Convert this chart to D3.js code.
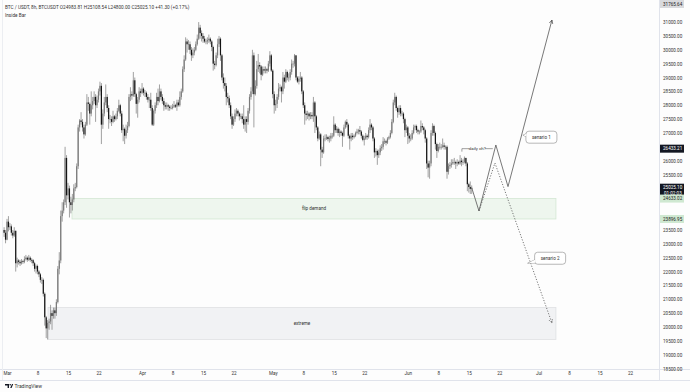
<!DOCTYPE html>
<html><head><meta charset="utf-8">
<script src="https://cdn.jsdelivr.net/npm/d3@7"></script>
<style>
html,body{margin:0;padding:0;background:#fdfdfd;}
svg{display:block;font-family:Roboto,"Liberation Sans",sans-serif;}
</style></head><body>
<svg id="c" width="690" height="392"></svg>
<script>
// ---------- DATA ----------
const symbolTitle = "BTC / USDT, 8h, BTCUSDT";
const ohlcText = ["O24983.81", "H25108.54", "L24800.00", "C25025.10", "+41.30 (+0.17%)"];
const indicatorName = "Inside Bar";
const firstCandleTime = "2023-02-28T08:00:00Z";
const firstOpen = 23500;
const closes = [23400,23150,
23800,23600,23630, 23400,23300,23470, 22300,22400,22350, 22300,22380,22350, 22450,22500,22430,
22500,22420,22410, 22300,22100,22200, 22000,21900,21700, 21700,21200,20350, 19950,20150,20200,
20500,20400,20600, 20500,20900,22100, 22400,24000,24200, 24500,26100,24750, 25000,24500,24400,
24600,25000,25050, 25800,27200,27450, 27400,27200,26950, 27300,28100,28050, 27700,28000,28150,
28300,28000,28200, 28500,28700,27300, 27700,28100,28300, 27900,27500,27500, 27400,27600,27500,
27600,27800,28000, 27700,27100,27150, 26900,27100,27250, 28300,28400,28350, 28900,28400,28050,
28200,28500,28450,
28600,28450,28450, 28300,28200,28200, 27900,27300,27800, 28000,28300,28150, 28500,28300,28150,
28000,27950,28000, 27950,27900,27900, 27950,28000,27950, 28100,28000,28300, 28500,29300,29650,
30300,30200,30200, 30000,29800,29900, 30000,30200,30400, 30800,30600,30500, 30400,30300,30300,
30350,30400,30300, 30100,29500,29450, 29800,30200,30400, 29800,29000,28800, 28700,28300,28250,
28000,27600,27300, 27500,27700,27800, 27700,27600,27600, 27500,27300,27500, 27400,27800,28300,
28500,29800,28400, 28700,29300,29450, 29400,29100,29300, 29250,29300,29250, 29500,29800,29250,
28400,28000,28050, 28300,28600,28650, 28500,29000,28850, 29200,29000,29000, 29200,29500,29500,
29800,29000,28850, 28950,29000,28500, 28000,27700,27650, 27700,27600,27650, 27600,28100,27600,
27200,26800,26950, 26400,26300,26800, 26800,26850,26780, 26800,26900,26900, 27300,27100,27150,
27000,27050,27000, 26900,27200,27400, 27300,26900,26800, 26900,26850,26900, 27000,27050,27100,
27050,26900,26750, 26800,26900,26850, 27100,27300,27200, 26800,26300,26350, 26200,26300,26450,
26500,26700,26700, 26650,26800,26850, 27000,27400,28100, 28300,27900,27750, 27900,27700,27700,
27500,27100,27200,
26900,26800,26800, 27000,27200,27250, 27100,27050,27050, 27250,27200,27100, 26800,25900,25750,
25900,27000,27250, 27000,26600,26350, 26500,26500,26500, 26550,26500,26500, 25600,25800,25850,
25900,25950,25950, 25900,25950,25900, 26000,25950,25950, 26100,25900,25150, 25050,24983.81,25025.10];
const highs = [23600,23500,
23900,24000,23750, 23700,23500,23600, 23480,22500,22450, 22420,22450,22420, 22550,22600,22550,
22600,22550,22480, 22450,22350,22250, 22250,22050,21950, 21800,21750,21250, 20400,20250,20300,
20800,20600,20700, 20700,21000,22200, 22700,24200,24500, 24600,26500,26200, 25200,25100,24700,
24800,25150,25200, 25900,27300,27500, 27750,27500,27300, 27400,28400,28300, 28100,28500,28300,
28500,28400,28350, 28600,28850,28800, 27850,28300,28750, 28400,28000,27650, 27600,27800,27650,
27700,27900,28200, 28050,27800,27300, 27200,27300,27400, 28400,28650,28500, 29200,29000,28450,
28300,28650,28600,
28800,28650,28550, 28500,28400,28300, 28450,28000,27850, 28100,28450,28600, 28750,28600,28400,
28250,28100,28100, 28050,28000,28000, 28050,28150,28050, 28200,28200,28500, 28600,29400,29800,
30450,30400,30350, 30300,30100,30050, 30100,30300,30550, 31000,30900,30700, 30600,30500,30400,
30450,30550,30450, 30350,30150,29600, 29900,30400,30500, 30450,29850,29150, 29000,28800,28450,
28350,28100,27700, 27600,27850,27900, 27850,27750,27700, 27700,28000,27600, 27600,27900,28400,
28650,30000,29900, 28900,29600,29850, 29550,29450,29400, 29400,29400,29350, 29600,29950,29850,
29300,28500,28200, 28400,28800,28750, 28700,29200,29100, 29300,29250,29150, 29300,29650,29600,
29850,29800,29050, 29050,29200,29050, 28550,28100,27800, 27800,27750,27750, 27750,28300,28150,
27650,27250,27050, 27000,26500,26900, 26950,26950,26900, 26900,27000,27000, 27600,27350,27250,
27200,27150,27100, 27050,27300,27450, 27500,27350,26950, 27000,27000,26950, 27050,27150,27150,
27250,27100,26950, 26900,27000,26950, 27200,27500,27350, 27250,26850,26450, 26400,26400,26550,
26600,26850,26800, 26750,26850,26900, 27100,27500,28200, 28450,28350,27950, 28000,28000,27800,
27750,27550,27300,
27250,27000,26950, 27100,27300,27300, 27300,27150,27100, 27450,27350,27250, 27150,26850,26000,
26000,27100,27350, 27300,27050,26650, 26600,26650,26600, 26800,26650,26550, 26550,25900,25950,
26050,26050,26100, 26000,26050,26000, 26200,26100,26050, 26150,26100,25950, 25200,25250,25108.54];
const lows = [23250,23020,
23130,23450,23500, 23300,23200,23250, 22000,22150,22250, 22200,22250,22280, 22300,22400,22350,
22380,22350,22300, 22200,22000,21930, 21900,21800,21600, 21550,21100,20050, 19600,19550,19900,
20100,19900,20300, 20300,20400,20850, 21900,22300,23800, 24100,24400,24300, 24600,23950,24100,
24200,24500,24900, 25000,25700,27050, 27300,27050,26800, 26900,27250,27800, 27300,27600,27850,
28050,27400,27900, 28100,28350,26600, 27150,27600,28000, 27750,27150,27350, 27250,27350,27400,
27450,27500,27750, 27600,27000,26700, 26600,26800,27000, 27200,28150,28200, 28300,28300,27700,
27550,28100,28300,
28400,28350,28300, 28200,28100,27900, 27800,27250,27250, 27700,27900,28000, 28100,28200,28050,
27800,27850,27850, 27800,27800,27850, 27850,27900,27900, 27800,27950,27950, 28200,28450,29200,
29600,29900,30000, 29850,29600,29700, 29800,29950,30150, 30350,30400,30300, 30250,30250,30200,
30200,30250,30200, 29950,29250,29300, 29400,29700,30100, 29600,28900,28600, 28500,28000,28100,
27900,27500,27150, 27250,27400,27600, 27600,27450,27500, 27350,27150,27050, 27000,27300,27700,
28200,28400,27200, 28350,28600,29200, 29150,28900,29050, 29150,29150,29150, 29200,29400,29200,
28250,27700,27800, 27900,28200,28500, 28100,28400,28600, 28800,28900,28850, 28900,29100,29350,
29400,28900,28800, 28750,28850,28400, 27900,27300,27450, 27500,27450,27500, 27500,27400,27000,
27100,26700,26750, 25800,26100,26250, 26700,26750,26700, 26650,26700,26800, 26850,27000,27000,
26900,26850,26900, 26500,26850,27150, 27200,26800,26400, 26700,26750,26800, 26850,26950,26950,
26950,26800,26700, 26550,26750,26750, 26800,27000,27100, 26700,26100,26150, 25850,26100,26200,
26350,26400,26600, 26550,26600,26750, 26800,26950,27350, 28000,27800,27550, 27650,27600,27600,
27350,26850,27000,
26600,26650,26700, 26750,26950,27100, 27000,26950,26950, 27000,27100,26950, 26650,25700,25400,
25350,25800,26900, 26900,26400,26100, 26300,26400,26400, 26450,26400,26400, 25350,25500,25700,
25750,25850,25850, 25700,25800,25850, 25850,25800,25850, 25900,25800,24900, 24850,24800,24800];

const priceTicks = [18500,19000,19500,20000,20500,21000,21500,22000,22500,23000,23500,24000,24500,
  25000,25500,26000,26500,27000,27500,28000,28500,29000,29500,30000,30500,31000];
const timeTickDates = ["2023-03-01","2023-03-08","2023-03-15","2023-03-22","2023-04-01","2023-04-08",
  "2023-04-15","2023-04-22","2023-05-01","2023-05-08","2023-05-15","2023-05-22","2023-06-01","2023-06-08",
  "2023-06-15","2023-06-22","2023-07-01","2023-07-08","2023-07-15","2023-07-22"];
const timeTickLabels = ["Mar","8","15","22","Apr","8","15","22","May","8","15","22","Jun","8","15","22","Jul","8","15","22"];

// zones
const zoneNames = ["flip demand", "extreme"];
const zoneStart = ["2023-03-15T22:00:00Z", "2023-03-10T10:00:00Z"];
const zoneEnd = ["2023-07-05T00:00:00Z", "2023-07-05T00:00:00Z"];
const zoneLow = [23896.95, 19550];
const zoneHigh = [24633.02, 20700];

// scenario paths [time, price]
const scenario1 = [["2023-06-15T16:00:00Z",25025],["2023-06-17T08:00:00Z",24185],["2023-06-21T05:00:00Z",26566],
  ["2023-06-24T00:00:00Z",25065],["2023-07-04T02:00:00Z",31075]];
const scenario2 = [["2023-06-17T08:00:00Z",24185],["2023-06-21T00:00:00Z",25916],["2023-07-04T02:00:00Z",20144]];
const calloutTexts = ["senario 1", "senario 2"];
const calloutAnchors = [["2023-06-27T10:00:00Z",26920],["2023-06-28T12:00:00Z",22300]];

// daily level
const levelText = "daily ch?";
const levelPrice = 26433.21;
const levelStart = "2023-06-13T10:00:00Z";
const levelEnd = "2023-06-20T12:00:00Z";

// price scale labels
const highLabel = 31765.64;
const lastPrice = 25025.10;
const countdown = "01:02:03";

// ---------- CHART ----------
const W = 690, H = 392, paneR = 659, paneB = 369, axisB = 380;
const svg = d3.select("#c");
const x = d3.scaleUtc().domain([new Date("2023-03-01T00:00:00Z"), new Date("2023-07-22T00:00:00Z")]).range([7, 630]);
const y = d3.scaleLinear().domain([20000, 30000]).range([327, 49.8]);

svg.append("rect").attr("width", W).attr("height", H).attr("fill", "#fdfdfd");
svg.append("defs").append("clipPath").attr("id","pane").append("rect").attr("x",0).attr("y",0).attr("width",paneR).attr("height",paneB);

const pane = svg.append("g").attr("clip-path","url(#pane)");

// zones
zoneNames.forEach((n,i)=>{
  const x0 = x(new Date(zoneStart[i])), x1 = x(new Date(zoneEnd[i]));
  const y0 = y(zoneHigh[i]), y1 = y(zoneLow[i]);
  pane.append("rect").attr("x",x0).attr("y",y0).attr("width",x1-x0).attr("height",y1-y0)
    .attr("fill", i===0 ? "#eef6ee" : "#f1f2f4").attr("stroke", i===0 ? "#d3e7d3" : "#dfe0e3").attr("stroke-width",0.8);
  pane.append("text").attr("x",(x0+x1)/2).attr("y",(y0+y1)/2+1.6).attr("text-anchor","middle")
    .attr("font-size",4.6).attr("fill","#333").text(n);
});

// candles
const t0 = new Date(firstCandleTime).getTime();
const candles = closes.map((c,i)=>{
  const o = i ? closes[i-1] : firstOpen;
  return {t:new Date(t0 + i*8*3600e3), o, c, h:Math.max(highs[i],o,c), l:Math.min(lows[i],o,c)};
});
const cg = pane.append("g");
cg.selectAll("line").data(candles).join("line")
  .attr("x1",d=>x(d.t)).attr("x2",d=>x(d.t)).attr("y1",d=>y(d.h)).attr("y2",d=>y(d.l))
  .attr("stroke","#6f6f6f").attr("stroke-width",0.65);
cg.selectAll("rect").data(candles).join("rect")
  .attr("x",d=>x(d.t)-0.6).attr("width",1.2)
  .attr("y",d=>y(Math.max(d.o,d.c))).attr("height",d=>Math.max(0.7, Math.abs(y(d.o)-y(d.c))))
  .attr("fill",d=>d.c>=d.o ? "#7a7a7a" : "#141414");

// daily level
{
  const lx0 = x(new Date(levelStart)), lx1 = x(new Date(levelEnd)), ly = y(levelPrice);
  pane.append("line").attr("x1",lx0).attr("x2",lx1).attr("y1",ly).attr("y2",ly).attr("stroke","#444").attr("stroke-width",0.5);
  pane.append("line").attr("x1",lx0).attr("x2",lx0).attr("y1",ly).attr("y2",ly+3).attr("stroke","#444").attr("stroke-width",0.5);
  const tx = (lx0+lx1)/2;
  pane.append("rect").attr("x",tx-8).attr("y",ly-2.5).attr("width",16).attr("height",5).attr("fill","#fdfdfd");
  pane.append("text").attr("x",tx).attr("y",ly+1.5).attr("text-anchor","middle").attr("font-size",4.4).attr("fill","#333").text(levelText);
}

// scenario paths
const line = d3.line().x(d=>x(new Date(d[0]))).y(d=>y(d[1]));
pane.append("path").attr("d",line(scenario1)).attr("fill","none").attr("stroke","#555").attr("stroke-width",0.8);
pane.append("path").attr("d",line(scenario2)).attr("fill","none").attr("stroke","#555").attr("stroke-width",0.8).attr("stroke-dasharray","1.2,1.6");
function arrowHead(p, q, dashed){
  const x1=x(new Date(p[0])), y1=y(p[1]), x2=x(new Date(q[0])), y2=y(q[1]);
  const a = Math.atan2(y2-y1, x2-x1), L = 4, s = 0.45;
  const pts = [[x2-L*Math.cos(a-s), y2-L*Math.sin(a-s)],[x2,y2],[x2-L*Math.cos(a+s), y2-L*Math.sin(a+s)]];
  pane.append("path").attr("d",d3.line()(pts)).attr("fill","none").attr("stroke","#555").attr("stroke-width",0.8)
    .attr("stroke-dasharray", dashed ? "1.2,1" : null);
}
arrowHead(scenario1[3], scenario1[4], false);
arrowHead(scenario2[1], scenario2[2], true);

// callouts
const calloutOffsets = [[3,-4],[7,-11]];
calloutTexts.forEach((t,i)=>{
  const ax = x(new Date(calloutAnchors[i][0])), ay = y(calloutAnchors[i][1]);
  const bx = ax + calloutOffsets[i][0], by = ay + calloutOffsets[i][1], bw = 31, bh = 12;
  const ty = Math.min(Math.max(ay, by+3), by+bh-3);
  const g = pane.append("g");
  g.append("path").attr("d",`M${ax},${ay} L${bx+1},${ty-1.8} L${bx+1},${ty+1.8} Z`).attr("fill","#fff").attr("stroke","#888").attr("stroke-width",0.6);
  g.append("rect").attr("x",bx).attr("y",by).attr("width",bw).attr("height",bh).attr("rx",3).attr("fill","#fff").attr("stroke","#888").attr("stroke-width",0.6);
  g.append("path").attr("d",`M${bx+0.4},${ty-1.4} L${ax+0.8},${ay} L${bx+0.4},${ty+1.4}`).attr("fill","#fff").attr("stroke","none");
  g.append("text").attr("x",bx+bw/2).attr("y",by+bh/2+1.6).attr("text-anchor","middle").attr("font-size",4.6).attr("fill","#333").text(t);
});

// header
svg.append("text").attr("x",5).attr("y",9).attr("font-size",4.7).attr("fill","#333")
  .text(symbolTitle + "  " + ohlcText.join(" "));
svg.append("text").attr("x",5).attr("y",17).attr("font-size",4.7).attr("fill","#333").text(indicatorName);

// borders
svg.append("line").attr("x1",paneR+0.5).attr("x2",paneR+0.5).attr("y1",0).attr("y2",axisB).attr("stroke","#e0e3eb").attr("stroke-width",1);
svg.append("line").attr("x1",0).attr("x2",W).attr("y1",paneB+0.5).attr("y2",paneB+0.5).attr("stroke","#e0e3eb").attr("stroke-width",1);
svg.append("line").attr("x1",0).attr("x2",W).attr("y1",axisB+0.5).attr("y2",axisB+0.5).attr("stroke","#e0e3eb").attr("stroke-width",1);
svg.append("line").attr("x1",2.5).attr("x2",2.5).attr("y1",0).attr("y2",axisB).attr("stroke","#eceef2").attr("stroke-width",1);

// price axis (tick labels hidden where a price tag sits, as the platform does)
const tagValues = [highLabel, levelPrice, lastPrice, zoneHigh[0], zoneLow[0]];
const visibleTicks = priceTicks.filter(v => tagValues.every(t => Math.abs(y(v) - y(t)) > 5.5));
const yAxis = d3.axisRight(y).tickValues(visibleTicks).tickSize(0).tickPadding(0).tickFormat(d3.format(".2f"));
const ya = svg.append("g").attr("transform",`translate(${paneR+4},0)`).call(yAxis);
ya.select(".domain").remove();
ya.selectAll("text").attr("font-size",4.6).attr("fill","#333").attr("font-family","Roboto, 'Liberation Sans', sans-serif");

function priceTag(v, bg, fg, sub){
  let yy = y(v); const h = sub ? 13 : 8;
  let top = sub ? yy - 4 : yy - h/2; if (top < 0) top = 0;
  svg.append("rect").attr("x",paneR+1).attr("y",top).attr("width",24).attr("height",h).attr("fill",bg);
  svg.append("text").attr("x",paneR+4).attr("y",top+5.6).attr("font-size",4.6).attr("fill",fg).text(d3.format(".2f")(v));
  if (sub) svg.append("text").attr("x",paneR+5).attr("y",top+11).attr("font-size",4.6).attr("fill",fg).text(sub);
}
priceTag(highLabel, "#d9dadd", "#222");
priceTag(levelPrice, "#131722", "#fff");
priceTag(lastPrice, "#131722", "#fff", countdown);
priceTag(zoneHigh[0], "#cfe8d1", "#222");
priceTag(zoneLow[0], "#cfe8d1", "#222");

// time axis
const xAxis = d3.axisBottom(x).tickValues(timeTickDates.map(d=>new Date(d+"T00:00:00Z"))).tickSize(0).tickPadding(0)
  .tickFormat((d,i)=>timeTickLabels[i]);
const xa = svg.append("g").attr("transform",`translate(0,${paneB+3})`).call(xAxis);
xa.select(".domain").remove();
xa.selectAll("text").attr("font-size",4.6).attr("fill","#333").attr("font-family","Roboto, 'Liberation Sans', sans-serif");

// footer logo
const lg = svg.append("g").attr("transform","translate(5,384)");
lg.append("path").attr("d","M0,0 H4 V4 H2.6 V1.4 H0 Z").attr("fill","#131722");
lg.append("circle").attr("cx",5.2).attr("cy",0.8).attr("r",0.8).attr("fill","#131722");
lg.append("path").attr("d","M5.2,4 L7,0 L8.2,0 L6.6,4 Z").attr("fill","#131722");
svg.append("text").attr("x",14.5).attr("y",388).attr("font-size",5).attr("fill","#333").text("TradingView");
</script>
</body></html>
